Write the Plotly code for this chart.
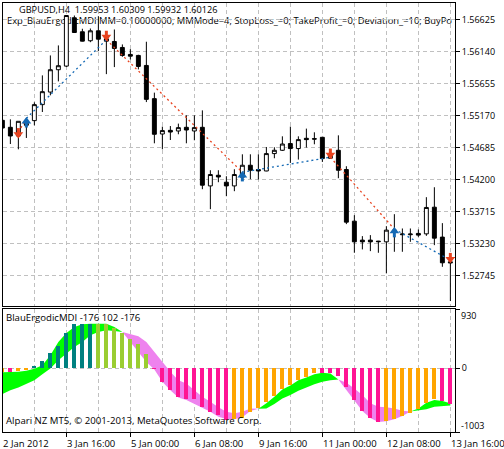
import plotly.graph_objects as go

# ---------- price pane data ----------
bar_index = list(range(57))
opens = [1.55099,1.54993,1.54861,1.55023,1.55094,1.55337,1.55528,1.55867,1.55922,1.56655,1.56443,1.56307,1.56458,1.56337,1.56296,1.56205,1.56099,1.56084,1.55932,1.55428,1.54891,1.54947,1.54937,1.54993,1.54937,1.54993,1.54103,1.54265,1.54159,1.54103,1.54235,1.54417,1.54352,1.54330,1.54594,1.54644,1.54746,1.54670,1.54826,1.54821,1.54841,1.54523,1.54644,1.54352,1.53568,1.53280,1.53280,1.53265,1.53254,1.53402,1.53362,1.53362,1.53382,1.53375,1.53780,1.53326,1.52951]
highs = [1.55099,1.55114,1.55084,1.55114,1.55372,1.55781,1.56084,1.56236,1.56690,1.56690,1.56489,1.56493,1.56680,1.56432,1.56478,1.56251,1.56179,1.56094,1.56292,1.55519,1.55003,1.55012,1.55049,1.55175,1.55175,1.55250,1.54341,1.54341,1.54250,1.54356,1.54583,1.54583,1.54583,1.54694,1.54690,1.54856,1.55003,1.54856,1.54973,1.54917,1.54841,1.54644,1.54871,1.54402,1.53659,1.53341,1.53356,1.53269,1.53492,1.53674,1.53457,1.53457,1.53442,1.53932,1.54083,1.53538,1.52998]
lows = [1.54982,1.54739,1.54659,1.54831,1.55023,1.55225,1.55478,1.55690,1.55907,1.56427,1.56296,1.56285,1.56149,1.55800,1.55907,1.56064,1.56023,1.55872,1.55376,1.54750,1.54659,1.54800,1.54887,1.54750,1.54796,1.54053,1.53750,1.54159,1.53947,1.54023,1.54189,1.54205,1.54200,1.54326,1.54523,1.54633,1.54452,1.54503,1.54685,1.54735,1.54467,1.54512,1.54220,1.53523,1.53088,1.53139,1.53113,1.53088,1.52775,1.53103,1.53103,1.53254,1.53330,1.53345,1.53204,1.52875,1.52355]
closes = [1.54982,1.54861,1.55084,1.55053,1.55337,1.55534,1.55867,1.55928,1.56690,1.56432,1.56301,1.56458,1.56331,1.56301,1.56190,1.56084,1.56073,1.55917,1.55417,1.54887,1.54943,1.54921,1.54988,1.54952,1.54988,1.54114,1.54276,1.54239,1.54103,1.54276,1.54417,1.54341,1.54330,1.54594,1.54644,1.54739,1.54670,1.54806,1.54806,1.54814,1.54518,1.54584,1.54341,1.53553,1.53254,1.53254,1.53254,1.53257,1.53432,1.53432,1.53372,1.53372,1.53356,1.53776,1.53310,1.52936,1.52936]

trade_bars = [2, 3, 13, 30, 41, 49, 56]
trade_prices = [1.54917, 1.55129, 1.56322, 1.54311, 1.54538, 1.53447, 1.52977]
trade_colors = ["#E8431F", "#1469B4", "#E8431F", "#1469B4", "#E8431F", "#1469B4"]
sell_bars = [2, 13, 41, 56]
sell_prices = [1.54917, 1.56395, 1.54606, 1.53022]
buy_bars = [3, 30, 49]
buy_prices = [1.55053, 1.54235, 1.53386]

price_ticks = [1.56625, 1.56140, 1.55655, 1.55170, 1.54685, 1.54200, 1.53715, 1.53230, 1.52745]
price_tick_labels = ["1.56625", "1.56140", "1.55655", "1.55170", "1.54685", "1.54200", "1.53715", "1.53230", "1.52745"]

# ---------- indicator pane data ----------
histogram = [-63,-63,-42,-31,37,115,240,350,553,689,699,699,699,699,637,553,465,376,219,-10,-219,-345,-459,-480,-491,-616,-684,-741,-814,-799,-788,-684,-632,-532,-438,-334,-271,-188,-136,-68,-78,-78,-125,-303,-501,-673,-783,-846,-835,-804,-752,-700,-647,-543,-491,-517,-564]
hist_colors = (["#FFA500", "#FF1493", "#FFA500", "#FFA500"] + ["#008080"] * 8 + ["#9ACD32"] * 7
               + ["#FF1493"] * 10 + ["#FFA500"] * 11 + ["#FF1493"] * 8 + ["#FFA500"] * 7 + ["#FF1493"] * 2)
fast = [-63,-63,-57,-42,-10,47,204,412,553,647,689,699,699,699,647,569,412,256,99,-21,-214,-345,-459,-501,-564,-632,-684,-762,-799,-804,-773,-673,-637,-553,-449,-334,-271,-188,-146,-94,-73,-84,-177,-345,-501,-673,-783,-846,-835,-804,-752,-679,-632,-543,-501,-517,-553]
slow = [-407,-345,-303,-240,-188,-94,-5,125,230,334,412,517,569,595,585,569,532,501,412,256,99,-57,-188,-240,-345,-449,-527,-616,-684,-710,-684,-632,-637,-632,-564,-475,-423,-355,-303,-251,-214,-188,-177,-230,-318,-423,-553,-606,-616,-632,-668,-679,-668,-647,-606,-595,-585]
cloud_breaks = [0, 15, 32, 42, 51, 56]
cloud_colors = ["#00FF00", "#EE82EE", "#00FF00", "#EE82EE", "#00FF00"]

date_ticks = [0, 8, 16, 24, 32, 40, 48, 56]
date_labels = ["2 Jan 2012", "3 Jan 16:00", "5 Jan 00:00", "6 Jan 08:00", "9 Jan 16:00", "11 Jan 00:00", "12 Jan 08:00", "13 Jan 16:00"]
grid_minor = [4, 12, 20, 28, 36, 44, 52]

header = "GBPUSD,H4  1.59953 1.60309 1.59932 1.60126"
expert = "Exp_BlauErgodicMDI MM=0.10000000; MMMode=4; StopLoss_=0; TakeProfit_=0; Deviation_=10; BuyPo"
ind_name = "BlauErgodicMDI -176 102 -176"
broker = "Alpari NZ MT5, \u00a9 2001-2013, MetaQuotes Software Corp."

def font(size):
    return dict(family="Open Sans", size=size, color="black")

FONT = font(9.5)
TICKFONT = font(9)
GRID = "#C0C0C0"
DASH = "4px,3px"
XR = [0.08, 56.58]
RED = "#E8431F"
BLUE = "#1469B4"
HEAD_OFFSET = 0.00030  # arrow head sits a little past the arrow centre

fig = go.Figure()
fig.add_trace(go.Candlestick(
    x=bar_index, open=opens, high=highs, low=lows, close=closes,
    xaxis="x", yaxis="y", whiskerwidth=0, showlegend=False, hoverinfo="skip",
    increasing=dict(line=dict(color="black", width=1), fillcolor="white"),
    decreasing=dict(line=dict(color="black", width=1), fillcolor="black"),
))
for k, col in enumerate(trade_colors):
    fig.add_trace(go.Scatter(
        x=trade_bars[k:k + 2], y=trade_prices[k:k + 2], mode="lines",
        line=dict(color=col, width=1.3, dash="2px,3px"), xaxis="x", yaxis="y",
        showlegend=False, hoverinfo="skip"))


def add_arrow(xs, ys, color, head_symbol, sign):
    fig.add_trace(go.Scatter(x=xs, y=ys, mode="markers", xaxis="x", yaxis="y",
                             marker=dict(symbol="line-ns", size=6, color=color, line=dict(width=3, color=color)),
                             showlegend=False, hoverinfo="skip"))
    fig.add_trace(go.Scatter(x=xs, y=[v + sign * HEAD_OFFSET for v in ys], mode="markers", xaxis="x", yaxis="y",
                             marker=dict(symbol=head_symbol, size=8.5, color=color, line=dict(width=0)),
                             showlegend=False, hoverinfo="skip"))


add_arrow(sell_bars, sell_prices, RED, "triangle-down", -1)
add_arrow(buy_bars, buy_prices, BLUE, "triangle-up", 1)

# cloud on the base indicator axes
for k, col in enumerate(cloud_colors):
    a, b = cloud_breaks[k], cloud_breaks[k + 1] + 1
    fig.add_trace(go.Scatter(x=bar_index[a:b], y=slow[a:b], mode="lines", line=dict(width=0, color=col),
                             xaxis="x2", yaxis="y2", showlegend=False, hoverinfo="skip"))
    fig.add_trace(go.Scatter(x=bar_index[a:b], y=fast[a:b], mode="lines", line=dict(width=0, color=col),
                             fill="tonexty", fillcolor=col, xaxis="x2", yaxis="y2",
                             showlegend=False, hoverinfo="skip"))
# histogram on overlay axes so it sits over the cloud
fig.add_trace(go.Bar(x=bar_index, y=histogram, marker=dict(color=hist_colors, line=dict(width=0)),
                     width=0.5, xaxis="x3", yaxis="y3", showlegend=False, hoverinfo="skip"))

axis_common = dict(showline=True, linecolor="black", linewidth=1, mirror=True, zeroline=False)
grid_x = dict(showgrid=True, gridcolor=GRID, griddash=DASH, gridwidth=1,
              minor=dict(tickvals=grid_minor, showgrid=True, gridcolor=GRID, griddash=DASH, gridwidth=1, ticks=""))

annotations = [
    dict(text=header, xref="paper", yref="paper", x=(18 - 3) / 452, y=(432 - 9.5) / 429, xanchor="left",
         yanchor="middle", showarrow=False, font=font(9.2), borderpad=0),
    dict(text=ind_name, xref="paper", yref="paper", x=(5 - 3) / 452, y=(432 - 317.5) / 429, xanchor="left",
         yanchor="middle", showarrow=False, font=font(9.6), borderpad=0),
    dict(text=broker, xref="paper", yref="paper", x=(5 - 3) / 452, y=(432 - 420.5) / 429, xanchor="left",
         yanchor="middle", showarrow=False, font=font(9.65), borderpad=0),
    dict(text="930", xref="paper", yref="y2", x=1, y=930, xanchor="left", yanchor="top", yshift=1, xshift=5,
         showarrow=False, font=TICKFONT, borderpad=0),
    dict(text="-1003", xref="paper", yref="y2", x=1, y=-1003, xanchor="left", yanchor="bottom", yshift=-1, xshift=5,
         showarrow=False, font=TICKFONT, borderpad=0),
]
for t, lab in zip(date_ticks, date_labels):
    annotations.append(dict(text=lab, xref="x2", yref="paper", x=max(t, XR[0]), y=0, xanchor="left", yanchor="top",
                            yshift=-4, xshift=-1 if t == 0 else 0, showarrow=False, font=FONT, borderpad=0))

fig.update_layout(
    width=504, height=449,
    margin=dict(l=3, r=49, t=3, b=17, pad=0),
    paper_bgcolor="white", plot_bgcolor="rgba(0,0,0,0)",
    font=FONT, showlegend=False, boxgap=0.3, bargap=0, barmode="overlay",
    xaxis=dict(domain=[0, 1], range=XR, anchor="y", tickvals=date_ticks, ticks="", showticklabels=False,
               rangeslider=dict(visible=False), **axis_common, **grid_x),
    yaxis=dict(domain=[126 / 429, 1], range=[1.52280, 1.56880], anchor="x", side="right", tickvals=price_ticks,
               ticktext=price_tick_labels, ticks="outside", ticklen=4, tickcolor="black", tickwidth=1,
               showgrid=True, gridcolor=GRID, griddash=DASH, gridwidth=1, tickfont=TICKFONT, **axis_common),
    xaxis2=dict(domain=[0, 1], range=XR, anchor="y2", tickvals=date_ticks, ticktext=[""] * 8, ticks="outside",
                ticklen=4, tickcolor="black", tickwidth=1, **axis_common, **grid_x),
    yaxis2=dict(domain=[0, 123 / 429], range=[-1003, 930], anchor="x2", side="right", tickvals=[-1003, 0, 930],
                ticktext=["", "0", ""], ticks="outside", ticklen=4, tickcolor="black", tickwidth=1,
                showgrid=True, gridcolor=GRID, griddash=DASH, gridwidth=1, tickfont=TICKFONT, **axis_common),
    xaxis3=dict(domain=[0, 1], range=XR, anchor="y3", overlaying="x2", visible=False),
    yaxis3=dict(domain=[0, 123 / 429], range=[-1003, 930], anchor="x3", overlaying="y2", visible=False),
    annotations=annotations,
    shapes=[dict(type="line", xref="paper", yref="paper", x0=(7 - 3) / 452, x1=1, y0=(432 - 21) / 429, y1=(432 - 21) / 429,
                 layer="below", line=dict(width=0, color="rgba(0,0,0,0)"),
                 label=dict(text=expert, textposition="start", yanchor="middle", xanchor="left", padding=0, font=font(9.4)))],
)
fig.write_html("out.html", config=dict(displayModeBar=False), post_script="document.body.style.margin='0';")
